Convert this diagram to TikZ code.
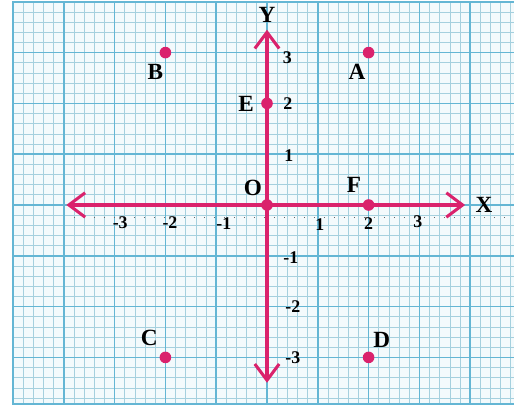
\documentclass[tikz,border=0pt]{standalone}
\usepackage{fontspec}
\setmainfont{Liberation Serif}
\usetikzlibrary{arrows.meta,positioning}
\definecolor{axisred}{RGB}{218,34,108}
\definecolor{gridminor}{RGB}{165,208,222}
\definecolor{gridmajor}{RGB}{100,182,212}
\definecolor{paper}{RGB}{243,250,252}

\begin{document}
\begin{tikzpicture}[x=1cm,y=1cm,
  dot/.style={circle,fill=axisred,inner sep=0pt,minimum size=6.5pt},
  lbl/.style={font=\fontsize{13}{13}\selectfont\bfseries,inner sep=0pt},
  ticklbl/.style={font=\fontsize{10}{10}\selectfont\bfseries,inner sep=0pt},
  axis/.style={draw=axisred,line width=1.7pt,{Straight Barb[length=3.2mm,width=4.8mm]}-{Straight Barb[length=3.2mm,width=4.8mm]}}]
\useasboundingbox (-5.256,-4.114) rectangle (4.862,4.035);
\fill[white] (-5.256,-4.114) rectangle (4.862,4.035);
\begin{scope}
\clip (-5,-3.92) rectangle (4.862,4.0);
\fill[paper] (-5,-3.92) rectangle (4.862,4.0);
\draw[gridminor,line width=0.4pt,step=0.2] (-5,-4) grid (5,4);
\draw[gridmajor,line width=0.9pt,step=1] (-5,-4) grid (5,4);
\end{scope}
\draw[gridmajor,line width=0.9pt] (4.862,-3.92) -| (-5,4.0) -- (4.862,4.0);
\draw[black!60,line width=0.6pt,dash pattern=on 0.6pt off 5pt] (-3.8,-0.25) -- (4.862,-0.25);

\coordinate (xl) at (-3.95,0);
\coordinate (xr) at (3.9,0);
\coordinate (yb) at (0,-3.5);
\coordinate (yt) at (0,3.45);
\draw[axis] (xl) -- (xr);
\draw[axis] (yb) -- (yt);
\node[lbl,right=0.2cm of xr] (X) {X};
\node[lbl,above=0.14cm of yt] (Y) {Y};

\node[dot] (O) at (0,0) {};
\node[dot] (A) at (2,3) {};
\node[dot] (B) at (-2,3) {};
\node[dot] (C) at (-2,-3) {};
\node[dot] (D) at (2,-3) {};
\node[dot] (E) at (0,2) {};
\node[dot] (F) at (2,0) {};

\node[lbl] (labA) at (1.77,2.62) {A};
\node[lbl] (labB) at (-2.2,2.62) {B};
\node[lbl] (labC) at (-2.32,-2.62) {C};
\node[lbl] (labD) at (2.26,-2.66) {D};
\node[lbl] (labE) at (-0.41,1.99) {E};
\node[lbl] (labF) at (1.71,0.39) {F};
\node[lbl] (labO) at (-0.28,0.33) {O};

\foreach \v/\px/\py in {-3/-2.89/-0.35,-2/-1.91/-0.35,-1/-0.85/-0.37,1/1.04/-0.39,2/2.0/-0.37,3/2.97/-0.33}
  \node[ticklbl] (xt\v) at (\px,\py) {\v};
\foreach \v/\px/\py in {3/0.40/2.89,2/0.41/1.99,1/0.43/0.98,-1/0.47/-1.04,-2/0.51/-2.0,-3/0.51/-3.01}
  \node[ticklbl] (yt\v) at (\px,\py) {\v};
\end{tikzpicture}
\end{document}
